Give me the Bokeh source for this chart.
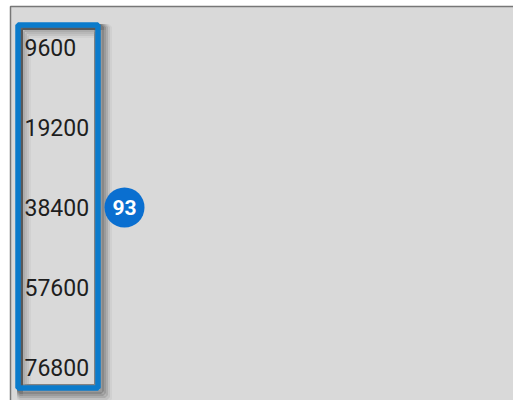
from bokeh.plotting import figure
from bokeh.models import Range1d, ColumnDataSource
from bokeh.core.properties import value
from bokeh.embed import file_html
from bokeh.resources import INLINE

# data
baud_rates = ["9600", "19200", "38400", "57600", "76800"]
badge_value = "93"
badge_row = 2  # row index of the badge (38400)

W, H = 513, 400
ROW = 80.0
Y0 = 47.0


def py(y):
    return (y - Y0) / ROW


p = figure(width=W, height=H, output_backend="svg", toolbar_location=None,
           x_range=Range1d(0, W), y_range=Range1d(py(H), py(0)),
           min_border=0, background_fill_color="white", border_fill_color="white",
           outline_line_color=None)
p.axis.visible = False
p.grid.visible = False

# gray panel
p.quad(left=10, right=W + 4, top=py(6), bottom=py(404), fill_color="#d9d9d9",
       line_color="#777777", line_width=1.5)

# soft shadow around the highlight box
L, R, T, B = 17.5, 97.5, 24.5, 387.5
for i, a in enumerate([0.18, 0.14, 0.10, 0.07, 0.04]):
    d = 3 + 2 * i
    p.quad(left=L + 2, right=R + d, top=py(T + 2), bottom=py(B + d),
           fill_color=None, line_color="black", line_alpha=a, line_width=6)
    p.quad(left=L + d, right=R - 2, top=py(T + d), bottom=py(B - 2),
           fill_color=None, line_color="black", line_alpha=a * 0.9, line_width=4)

# highlight box
p.quad(left=L, right=R, top=py(T), bottom=py(B), fill_color=None,
       line_color="#0b7bcb", line_width=5.5)

src = ColumnDataSource(dict(x=[24] * len(baud_rates), y=list(range(len(baud_rates))),
                            t=baud_rates))
p.text(x="x", y="y", text="t", source=src, text_font=value("Roboto"),
       text_font_size="23px", text_color="#1e1e1e", text_align="left",
       text_baseline="middle")

# badge
bsrc = ColumnDataSource(dict(x=[124], y=[badge_row], t=[badge_value]))
p.scatter(x="x", y="y", source=bsrc, size=40, marker="circle",
          fill_color="#0a6fd0", line_color=None)
p.text(x="x", y="y", text="t", source=bsrc, text_font=value("Roboto"),
       text_font_style="bold", text_font_size="21px", text_color="white",
       text_align="center", text_baseline="middle")

open("out.html", "w").write(file_html(p, INLINE))
